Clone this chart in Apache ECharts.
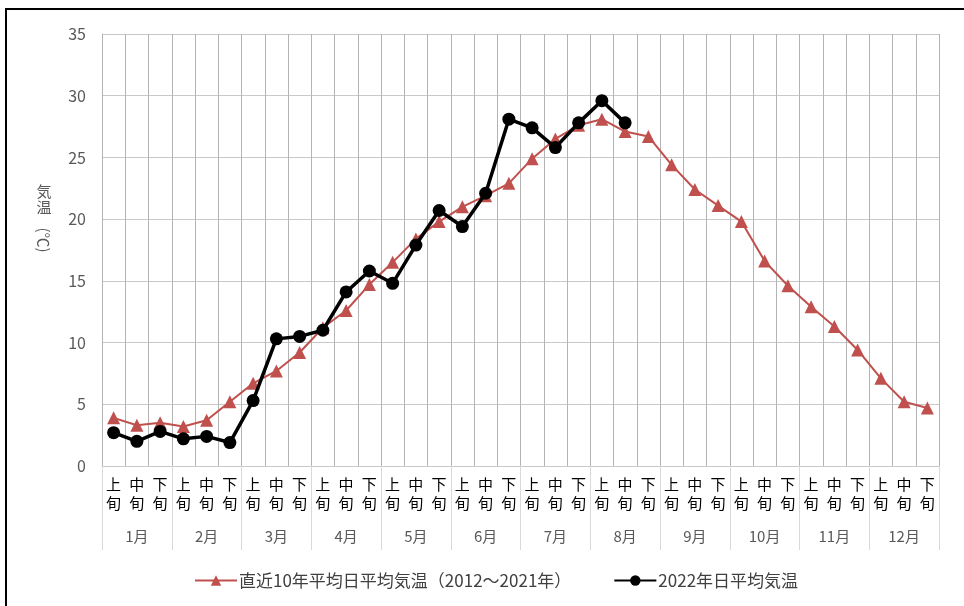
<!DOCTYPE html>
<html>
<head>
<meta charset="utf-8">
<title>気温</title>
<script src="https://cdn.jsdelivr.net/npm/echarts@6/dist/echarts.min.js"></script>
<style>
	html, body { margin: 0; padding: 0; background: #fff; }
	#chart { width: 964px; height: 606px; }
</style>
</head>
<body>
<div id="chart"></div>
<script>
//旬ごとのカテゴリ
var months = ['1月', '2月', '3月', '4月', '5月', '6月', '7月', '8月', '9月', '10月', '11月', '12月'];
var periods = ['上\n旬', '中\n旬', '下\n旬'];
var yTicks = [0, 5, 10, 15, 20, 25, 30, 35];

//直近10年平均日平均気温(2012～2021年)
var avgTemp = [3.9, 3.3, 3.5, 3.2, 3.7, 5.2,
	6.7, 7.7, 9.2, 11.2, 12.6, 14.7,
	16.5, 18.4, 19.8, 21.0, 21.9, 22.9,
	24.9, 26.5, 27.6, 28.1, 27.1, 26.7,
	24.4, 22.4, 21.1, 19.8, 16.6, 14.6,
	12.9, 11.3, 9.4, 7.1, 5.2, 4.7];

//2022年日平均気温
var temp2022 = [2.7, 2.0, 2.8, 2.2, 2.4, 1.9,
	5.3, 10.3, 10.5, 11.0, 14.1, 15.8,
	14.8, 17.9, 20.7, 19.4, 22.1, 28.1,
	27.4, 25.8, 27.8, 29.6, 27.8];

var categories = [];
months.forEach(function(m) {
	periods.forEach(function(p) { categories.push(p); });
});

var fontJP = '"Noto Sans CJK JP", "Noto Sans", sans-serif';

//縦書きの軸タイトル用
function axisNameText(str, y, rotation) {
	return {
		type: 'text',
		x: 44,
		y: y,
		rotation: rotation || 0,
		silent: true,
		style: {
			text: str,
			fontSize: 15,
			fill: '#595959',
			align: 'center',
			verticalAlign: 'middle',
			fontFamily: fontJP
		}
	};
}

var chart = echarts.init(document.getElementById('chart'));
var option = {
	backgroundColor: '#fff',
	animation: false,
	textStyle: { fontFamily: fontJP },
	grid: {
		left: 102,
		right: 25,
		top: 34,
		bottom: 140
	},
	legend: {
		top: 567,
		left: 189,
		itemGap: 42,
		itemWidth: 42,
		itemHeight: 13,
		textStyle: { fontSize: 17, color: '#404040', fontFamily: fontJP, padding: [0, 0, 0, -3] },
		data: ['直近10年平均日平均気温（2012～2021年）', '2022年日平均気温']
	},
	xAxis: [{
		type: 'category',
		data: categories,
		boundaryGap: true,
		axisLine: { show: true, lineStyle: { color: '#c8c8c8', width: 1 } },
		axisTick: { show: false },
		splitLine: { show: true, interval: 0, lineStyle: { color: '#b4b4b4', width: 1 } },
		axisLabel: {
			interval: 0,
			margin: 9,
			fontSize: 15,
			lineHeight: 19,
			color: '#000',
			fontFamily: fontJP
		}
	}, {
		type: 'category',
		data: months,
		position: 'bottom',
		boundaryGap: true,
		axisLine: { show: false },
		axisTick: { show: true, interval: 0, length: 84, lineStyle: { color: '#d9d9d9', width: 1 } },
		axisLabel: {
			interval: 0,
			margin: 63,
			fontSize: 15,
			color: '#595959',
			fontFamily: fontJP
		}
	}],
	yAxis: {
		type: 'value',
		min: yTicks[0],
		max: yTicks[yTicks.length - 1],
		interval: 5,
		axisLine: { show: true, lineStyle: { color: '#b4b4b4' } },
		axisTick: { show: false },
		splitLine: { show: true, lineStyle: { color: '#c8c8c8', width: 1 } },
		axisLabel: {
			margin: 16,
			fontSize: 16,
			color: '#595959',
			fontFamily: fontJP
		}
	},
	series: [{
		name: '直近10年平均日平均気温（2012～2021年）',
		type: 'line',
		xAxisIndex: 0,
		data: avgTemp,
		symbol: 'triangle',
		symbolSize: 13,
		itemStyle: { color: '#c0504d' },
		lineStyle: { color: '#c0504d', width: 2 },
		z: 3
	}, {
		name: '2022年日平均気温',
		type: 'line',
		xAxisIndex: 0,
		data: temp2022,
		symbol: 'circle',
		symbolSize: 13,
		itemStyle: { color: '#000' },
		lineStyle: { color: '#000', width: 3.5 },
		z: 4
	}],
	graphic: [{
		//外枠
		type: 'polyline',
		shape: { points: [[6, 640], [6, 9], [1000, 9]] },
		style: { stroke: '#000', lineWidth: 2, fill: null },
		silent: true
	},
		axisNameText('気', 191),
		axisNameText('温', 207),
		axisNameText('(℃)', 240, -Math.PI / 2)
	]
};
chart.setOption(option);
</script>
</body>
</html>
